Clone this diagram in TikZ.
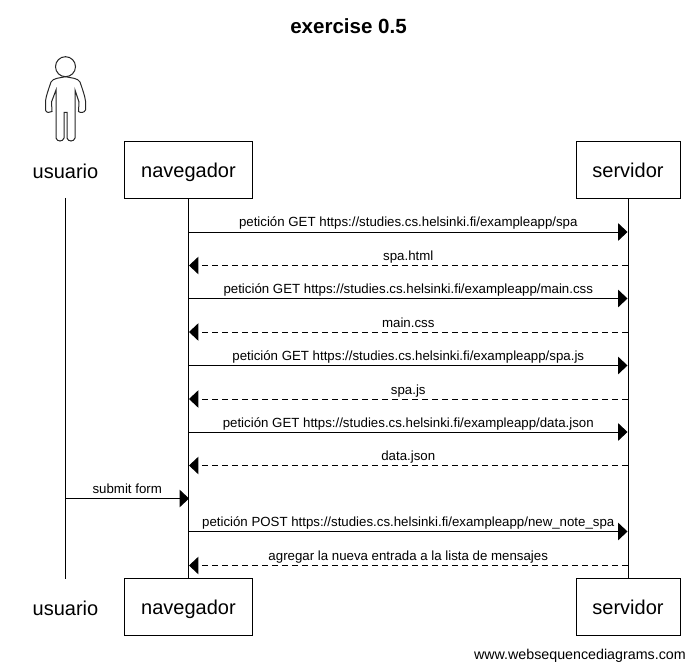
\documentclass[tikz,border=0pt]{standalone}
\usepackage{fontspec}
\setmainfont{Liberation Sans}
\usetikzlibrary{arrows.meta}
\tikzset{
  actorbox/.style={draw,line width=0.75pt,minimum width=96pt,minimum height=42.75pt,inner sep=0pt,text height=14pt,text depth=3.2pt,font=\fontsize{15}{18}\selectfont},
  serverbox/.style={actorbox,minimum width=78pt},
  plainname/.style={inner sep=0pt,font=\fontsize{15}{18}\selectfont},
  lifeline/.style={line width=0.75pt},
  msg/.style={line width=0.75pt,-{Triangle[length=7pt,width=13pt]}},
  reply/.style={msg,dash pattern=on 4.5pt off 3pt},
  msgtext/.style={inner sep=0pt,font=\fontsize{9.95}{12}\selectfont,anchor=base},
  stick/.style={line width=0.75pt,draw=black!85}
}
\begin{document}
\begin{tikzpicture}[x=0.75pt,y=-0.75pt]
\useasboundingbox (0,0) rectangle (695,670);
\node[font=\bfseries\fontsize{15.4}{18}\selectfont,inner sep=0pt] (title) at (348.5,26) {exercise 0.5};
% actor figure
\draw[stick] (65.5,66.7) circle (10);
\draw[stick]
  (65.5,76.7) .. controls (60,78) and (53,78) .. (51,82)
  .. controls (49,88) and (46,96) .. (45.5,101)
  -- (45.5,110) .. controls (46,113) and (50,113) .. (52,111.5)
  -- (51.5,102) -- (56,90)
  -- (56,138) .. controls (57,142) and (63,142) .. (64,138)
  -- (64,112.5) -- (67,112.5) -- (67,138)
  .. controls (68,142) and (74,142) .. (75,138)
  -- (75,90) -- (79,102) -- (78.5,111.5)
  .. controls (80,113) and (84.5,113) .. (85.5,110)
  -- (85.5,101) .. controls (85,96) and (82,88) .. (80,82)
  .. controls (78,78) and (71,78) .. (65.5,76.7) -- cycle;
% participants
\node[plainname] (uTop) at (65.5,171) {usuario};
\node[actorbox] (nTop) at (188.5,170) {navegador};
\node[serverbox] (sTop) at (628,170) {servidor};
\node[plainname] (uBot) at (65.5,608) {usuario};
\node[actorbox] (nBot) at (188.5,607) {navegador};
\node[serverbox] (sBot) at (628,607) {servidor};
% lifelines
\coordinate (uStart) at (65.5,198);
\coordinate (uEnd) at (65.5,578.5);
\draw[lifeline] (uStart) -- (uEnd);
\draw[lifeline] (nTop.south) -- (nBot.north);
\draw[lifeline] (sTop.south) -- (sBot.north);
% message end points
\foreach \i/\y in {1/232,2/265.5,3/298.5,4/332,5/365.5,6/399,7/432,8/465.5,9/498.5,10/531.5,11/565.5}{
  \coordinate (n\i) at (189,\y);
  \coordinate (s\i) at (627.5,\y);
}
\coordinate (u9) at (65.5,498.5);
% messages
\draw[msg] (n1) -- node[msgtext,above=3.75pt,anchor=base,pos=.5]{petición GET https://studies.cs.helsinki.fi/exampleapp/spa} (s1);
\draw[reply] (s2) -- node[msgtext,above=3.4pt,anchor=base,pos=.5]{spa.html} (n2);
\draw[msg] (n3) -- node[msgtext,above=3.75pt,anchor=base,pos=.5]{petición GET https://studies.cs.helsinki.fi/exampleapp/main.css} (s3);
\draw[reply] (s4) -- node[msgtext,above=3.4pt,anchor=base,pos=.5]{main.css} (n4);
\draw[msg] (n5) -- node[msgtext,above=3.75pt,anchor=base,pos=.5]{petición GET https://studies.cs.helsinki.fi/exampleapp/spa.js} (s5);
\draw[reply] (s6) -- node[msgtext,above=3.4pt,anchor=base,pos=.5]{spa.js} (n6);
\draw[msg] (n7) -- node[msgtext,above=3.75pt,anchor=base,pos=.5]{petición GET https://studies.cs.helsinki.fi/exampleapp/data.json} (s7);
\draw[reply] (s8) -- node[msgtext,above=3.4pt,anchor=base,pos=.5]{data.json} (n8);
\draw[msg] (u9) -- node[msgtext,above=3.4pt,anchor=base,pos=.5]{submit form} (n9);
\draw[msg] (n10) -- node[msgtext,above=3.75pt,anchor=base,pos=.5]{petición POST https://studies.cs.helsinki.fi/exampleapp/new\_note\_spa} (s10);
\draw[reply] (s11) -- node[msgtext,above=3.4pt,anchor=base,pos=.5]{agregar la nueva entrada a la lista de mensajes} (n11);
\node[inner sep=0pt,anchor=base east,font=\fontsize{10.7}{12}\selectfont] (credit) at (686,659) {www.websequencediagrams.com};
\end{tikzpicture}
\end{document}
